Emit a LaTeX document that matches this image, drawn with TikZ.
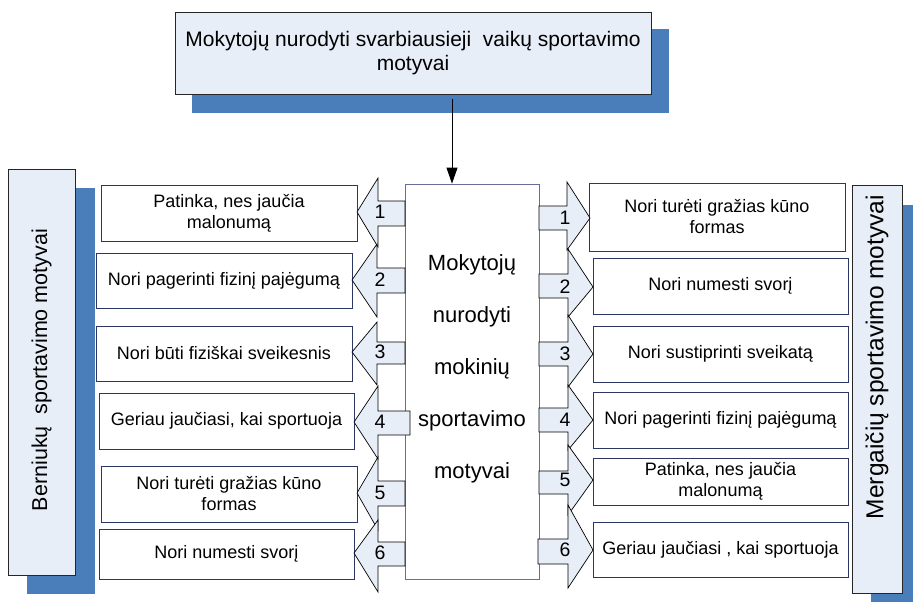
\documentclass[tikz,border=0pt]{standalone}
\usepackage{fontspec}
\setmainfont{Liberation Sans}
\usetikzlibrary{arrows.meta}
\definecolor{shadowblue}{RGB}{74,126,187}
\definecolor{lightfill}{RGB}{232,238,247}
\definecolor{boxline}{RGB}{45,55,100}
\definecolor{cboxline}{RGB}{100,110,150}
\tikzset{
  mbox/.style={draw=boxline, line width=0.8pt, fill=white, inner sep=0pt, outer sep=0pt, align=center, font=\fontsize{18}{21}\selectfont},
  labelbox/.style={draw=black!85, line width=0.8pt, fill=lightfill, inner sep=0pt, outer sep=0pt},
  shadowbox/.style={fill=shadowblue, draw=none},
  blockarr/.style={draw=black, line width=0.7pt, fill=lightfill, line join=miter},
  numlbl/.style={inner sep=0pt, font=\fontsize{19.5}{21}\selectfont},
  bigtext/.style={inner sep=0pt, align=center, font=\fontsize{22}{52}\selectfont}
}
\newcommand\myLarrow[9]{%
  \draw[blockarr] (#1,#2) -- (#3,#4) -- (#3,#6) -- (#8,#6) -- (#8,#7) -- (#3,#7) -- (#3,#5) -- cycle;
  \node[numlbl] (ln#9) at (380,#2) {#9};}
\newcommand\myRarrow[9]{%
  \draw[blockarr] (#1,#2) -- (#3,#4) -- (#3,#6) -- (#8,#6) -- (#8,#7) -- (#3,#7) -- (#3,#5) -- cycle;
  \node[numlbl] (rn#9) at (565,#2) {#9};}
\begin{document}
\begin{tikzpicture}[x=1pt,y=-1pt]
\useasboundingbox (0,0) rectangle (913,603);
% shadows
\fill[shadowblue] (192,29) rectangle (669,113);
\fill[shadowblue] (27,188) rectangle (95,594);
\fill[shadowblue] (871,205) rectangle (913,602);
% top box
\node[labelbox, minimum width=476pt, minimum height=82pt, align=center, font=\fontsize{21}{24}\selectfont] (top) at (413,53) {Mokytojų nurodyti svarbiausieji \ vaikų sportavimo\\motyvai};
% side label boxes
\node[labelbox, minimum width=67pt, minimum height=406pt] (lbl) at (41.5,372) {};
\node[rotate=90, inner sep=0pt, font=\fontsize{21.5}{24}\selectfont] (lbltext) at (41.5,370) {Berniukų \ sportavimo motyvai};
\node[labelbox, minimum width=50pt, minimum height=408pt] (rbl) at (877,389) {};
\node[rotate=90, inner sep=0pt, font=\fontsize{24.5}{28}\selectfont] (rbltext) at (877,357) {Mergaičių sportavimo motyvai};
% center box
\node[draw=cboxline, line width=0.8pt, fill=white, minimum width=134pt, minimum height=395pt, inner sep=0pt] (cbox) at (472,381.5) {};
\node[bigtext] (ctext) at (472,369) {Mokytojų\\nurodyti\\mokinių\\sportavimo\\motyvai};
% top connector
\coordinate (ts) at (452,99);
\draw[line width=0.8pt, -{Triangle[width=11pt,length=16pt]}] (ts) -- (ts |- cbox.north);
% left boxes
\node[mbox, minimum width=256pt, minimum height=56pt] (l1) at (229,213) {Patinka, nes jaučia\\malonumą};
\node[mbox, minimum width=256pt, minimum height=55pt] (l2) at (224,280.5) {Nori pagerinti fizinį pajėgumą};
\node[mbox, minimum width=256pt, minimum height=55pt] (l3) at (224,353.5) {Nori būti fiziškai sveikesnis};
\node[mbox, minimum width=255pt, minimum height=56pt] (l4) at (226.5,421) {Geriau jaučiasi, kai sportuoja};
\node[mbox, minimum width=256pt, minimum height=56pt] (l5) at (229,494) {Nori turėti gražias kūno\\formas};
\node[mbox, minimum width=255pt, minimum height=50pt] (l6) at (226.5,554) {Nori numesti svorį};
% right boxes
\node[mbox, minimum width=256pt, minimum height=68pt] (r1) at (717,217) {Nori turėti gražias kūno\\formas};
\node[mbox, minimum width=255pt, minimum height=56pt] (r2) at (720.5,286) {Nori numesti svorį};
\node[mbox, minimum width=255pt, minimum height=56pt] (r3) at (720.5,354) {Nori sustiprinti sveikatą};
\node[mbox, minimum width=255pt, minimum height=56pt] (r4) at (720.5,420) {Nori pagerinti fizinį pajėgumą};
\node[mbox, minimum width=255pt, minimum height=47pt] (r5) at (720.5,481.5) {Patinka, nes jaučia\\malonumą};
\node[mbox, minimum width=255pt, minimum height=55pt] (r6) at (720.5,549.5) {Geriau jaučiasi , kai sportuoja};
% left block arrows: tip x, tip y, head base x, head top, head bottom, shaft top, shaft bottom, shaft end, number
\myLarrow{357}{212}{378}{178}{247}{201}{226}{405}{1}
\myLarrow{352}{280}{377}{244}{317}{268}{293}{405}{2}
\myLarrow{352}{352}{377}{322}{385}{342}{364}{405}{3}
\myLarrow{354}{422}{378}{386}{459}{411}{435}{410}{4}
\myLarrow{357}{493}{378}{457}{530}{481}{506}{405}{5}
\myLarrow{354}{553}{378}{520}{592}{542}{566}{405}{6}
% right block arrows
\myRarrow{590}{218}{567}{182}{250}{206}{230}{539}{1}
\myRarrow{593}{287}{568}{249}{317}{274}{298}{539}{2}
\myRarrow{593}{354}{568}{315}{387}{342}{366}{539}{3}
\myRarrow{593}{420}{568}{385}{450}{408}{432}{539}{4}
\myRarrow{593}{480}{568}{445}{515}{471}{494}{539}{5}
\myRarrow{593}{550}{568}{505}{588}{539}{564}{538}{6}
\end{tikzpicture}
\end{document}
